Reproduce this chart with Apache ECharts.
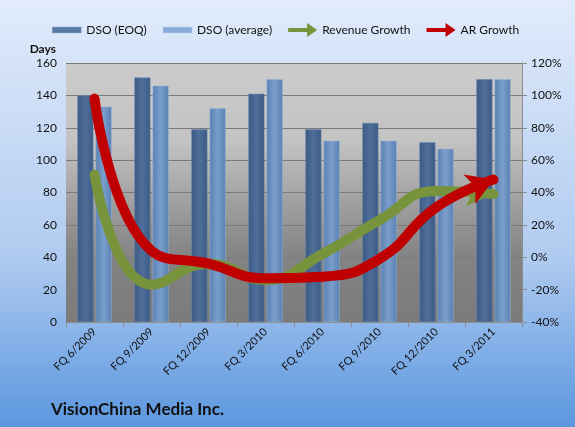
<!DOCTYPE html>
<html>
<head>
<meta charset="utf-8">
<script src="https://cdn.jsdelivr.net/npm/echarts@6/dist/echarts.min.js"></script>
<style>
  html, body { margin: 0; padding: 0; }
  #chart { width: 575px; height: 427px; }
</style>
</head>
<body>
<div id="chart"></div>
<script>
const categories = ['FQ 6/2009', 'FQ 9/2009', 'FQ 12/2009', 'FQ 3/2010', 'FQ 6/2010', 'FQ 9/2010', 'FQ 12/2010', 'FQ 3/2011'];
const dsoEoq = [140, 151, 119, 141, 119, 123, 111, 150];
const dsoAvg = [133, 146, 132, 150, 112, 112, 107, 150];
const revenueGrowth = [51, -17, -4, -14, 2, 23, 41, 39];
const arGrowth = [98, 4, -4, -13, -12, -1, 31, 48];

const font = 'Lato, "Liberation Sans", sans-serif';
const arrowIcon = 'path://M0,5 L19,5 L19,0 L29,7 L19,14 L19,9 L0,9 Z';
const barIcon = 'path://M0,0 L29,0 L29,6 L0,6 Z';

// last point of each growth line gets an arrow head
const withArrow = (arr, color, rotate) => arr.map((v, i) => i < arr.length - 1 ? v : {
  value: v,
  symbol: 'arrow',
  symbolSize: [24, 26],
  symbolRotate: rotate,
  itemStyle: { color }
});

const barGrad = (a, b) => new echarts.graphic.LinearGradient(0, 0, 1, 0, [
  { offset: 0, color: a }, { offset: 0.5, color: b }, { offset: 1, color: a }
]);

let myChart = echarts.init(document.querySelector('#chart'));
myChart.setOption({
  animation: false,
  backgroundColor: new echarts.graphic.LinearGradient(0, 0, 0, 1, [
    { offset: 0, color: '#e1ebfb' },
    { offset: 0.6, color: '#b0cbf0' },
    { offset: 1, color: '#5b97df' }
  ]),
  textStyle: { fontFamily: font },
  title: {
    text: 'VisionChina Media Inc.',
    left: 46, top: 396,
    textStyle: { fontSize: 17, fontWeight: 'bold', color: '#111', fontFamily: font }
  },
  legend: {
    top: 18, left: 47,
    itemGap: 16,
    itemWidth: 29, itemHeight: 14,
    symbolKeepAspect: true,
    textStyle: { fontSize: 12, color: '#111', fontFamily: font },
    data: [
      { name: 'DSO (EOQ)', icon: barIcon, itemStyle: { color: '#5a7aa6', borderColor: '#8fa9cc', borderWidth: 0.5 } },
      { name: 'DSO (average)', icon: barIcon, itemStyle: { color: '#8aabd8', borderColor: '#b9cfec', borderWidth: 0.5 } },
      { name: 'Revenue Growth', icon: arrowIcon, itemStyle: { color: '#77933c' } },
      { name: 'AR Growth', icon: arrowIcon, itemStyle: { color: '#c00000' } }
    ]
  },
  grid: {
    left: 66, right: 53, top: 63, bottom: 105,
    show: true,
    borderWidth: 0,
    backgroundColor: new echarts.graphic.LinearGradient(0, 0, 0, 1, [
      { offset: 0, color: '#cbcbcb' },
      { offset: 0.3, color: '#c3c3c3' },
      { offset: 0.55, color: '#9e9e9e' },
      { offset: 0.75, color: '#838383' },
      { offset: 1, color: '#7b7b7b' }
    ])
  },
  xAxis: {
    type: 'category',
    data: categories,
    axisLine: { lineStyle: { color: '#8c8c8c' } },
    axisTick: { show: true, length: 5, lineStyle: { color: '#8c8c8c' } },
    axisLabel: { rotate: 45, fontSize: 11, color: '#111', margin: 8, fontFamily: font }
  },
  yAxis: [{
    type: 'value',
    name: 'Days',
    nameLocation: 'end',
    nameGap: 8,
    nameTextStyle: { fontWeight: 'bold', fontSize: 12, color: '#111', align: 'right', padding: [0, 10, 0, 0] },
    min: 0, max: 160, interval: 20,
    axisLine: { show: false },
    axisTick: { show: false },
    axisLabel: { fontSize: 12, color: '#111', margin: 9 },
    splitLine: { lineStyle: { color: '#7a7a7a', width: 1 } }
  }, {
    type: 'value',
    min: -40, max: 120, interval: 20,
    axisLine: { show: true, lineStyle: { color: '#8c8c8c' } },
    axisTick: { show: true, length: 5, lineStyle: { color: '#8c8c8c' } },
    axisLabel: { fontSize: 12, color: '#111', formatter: '{value}%', margin: 9 },
    splitLine: { show: false }
  }],
  series: [{
    name: 'DSO (EOQ)',
    type: 'bar',
    data: dsoEoq,
    barWidth: 16,
    barGap: '14%',
    itemStyle: { color: barGrad('#3b5a84', '#4f6f9b'), borderColor: '#6d8bb3', borderWidth: 0.5 }
  }, {
    name: 'DSO (average)',
    type: 'bar',
    data: dsoAvg,
    barWidth: 16,
    itemStyle: { color: barGrad('#5a80b2', '#7a9fcd'), borderColor: '#9ab6dc', borderWidth: 0.5 }
  }, {
    name: 'Revenue Growth',
    type: 'line',
    yAxisIndex: 1,
    smooth: 0.5,
    symbol: 'none',
    showSymbol: true,
    data: withArrow(revenueGrowth, '#77933c', -98),
    lineStyle: { color: '#77933c', width: 10, cap: 'round' },
    itemStyle: { color: '#77933c' },
    z: 3
  }, {
    name: 'AR Growth',
    type: 'line',
    yAxisIndex: 1,
    smooth: 0.5,
    symbol: 'none',
    showSymbol: true,
    data: withArrow(arGrowth, '#c00000', -68),
    lineStyle: { color: '#c00000', width: 10, cap: 'round' },
    itemStyle: { color: '#c00000' },
    z: 4
  }]
});
</script>
</body>
</html>
